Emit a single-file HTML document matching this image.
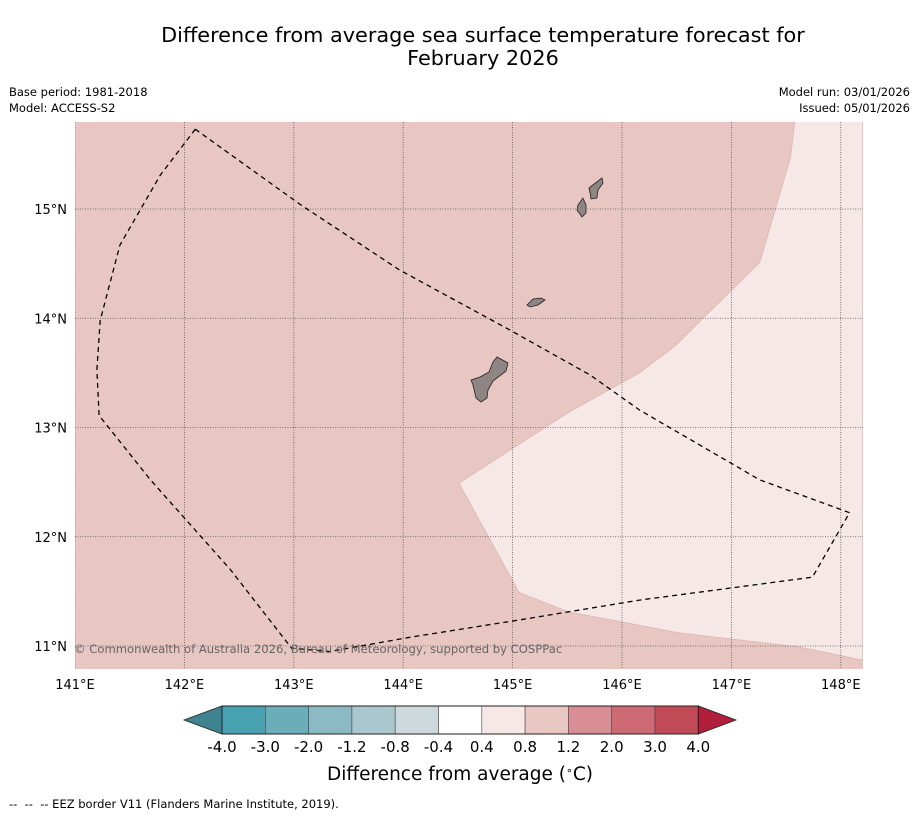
<!DOCTYPE html>
<html><head><meta charset="utf-8"><style>
body{margin:0;background:#fff;width:919px;height:816px;overflow:hidden;font-family:"DejaVu Sans","Liberation Sans",sans-serif}
svg text{font-family:"DejaVu Sans","Liberation Sans",sans-serif}
</style></head><body>
<svg id="c" width="919" height="816" xmlns="http://www.w3.org/2000/svg">
<text x="483" y="42" text-anchor="middle" font-size="20.8">Difference from average sea surface temperature forecast for</text>
<text x="483" y="65" text-anchor="middle" font-size="20.8">February 2026</text>
<text x="9" y="96" font-size="11.5">Base period: 1981-2018</text>
<text x="9" y="112" font-size="11.5">Model: ACCESS-S2</text>
<text x="910" y="96" font-size="11.5" text-anchor="end">Model run: 03/01/2026</text>
<text x="910" y="112" font-size="11.5" text-anchor="end">Issued: 05/01/2026</text>
<g id="map"></g>
<g id="cbar"></g>
<text x="460" y="780" text-anchor="middle" font-size="18.5">Difference from average (<tspan baseline-shift="super" font-size="11">∘</tspan>C)</text>
<text x="9" y="808" font-size="11.5" xml:space="preserve" style="white-space:pre">--  --  -- EEZ border V11 (Flanders Marine Institute, 2019).</text>
</svg>
<script>
const lonTicks=[141,142,143,144,145,146,147,148];
const latTicks=[11,12,13,14,15];
const warmZone=[[147.58,15.80],[147.54,15.47],[147.26,14.51],[146.76,14.02],[146.49,13.75],[146.16,13.50],[145.50,13.13],[144.51,12.49],[145.06,11.49],[145.52,11.31],[146.53,11.12],[147.63,10.99],[148.20,10.87],[148.20,15.80]];
const eez=[[142.10,15.73],[141.78,15.31],[141.41,14.67],[141.23,13.98],[141.20,13.53],[141.22,13.11],[141.69,12.52],[142.42,11.70],[142.98,10.98],[143.33,10.95],[144.06,11.08],[145.07,11.24],[146.16,11.42],[147.74,11.63],[148.08,12.22],[147.26,12.52],[146.16,13.16],[145.71,13.48],[144.98,13.89],[143.97,14.44],[143.06,15.04],[142.10,15.73]];
const guam=[[144.857,13.645],[144.958,13.590],[144.940,13.517],[144.821,13.426],[144.775,13.343],[144.766,13.270],[144.711,13.233],[144.665,13.270],[144.638,13.389],[144.620,13.435],[144.702,13.462],[144.784,13.508],[144.821,13.600]];
const rota=[[145.132,14.121],[145.186,14.176],[145.260,14.185],[145.296,14.167],[145.232,14.121],[145.159,14.103]];
const tinian=[[145.598,15.037],[145.643,15.101],[145.671,15.037],[145.671,14.963],[145.634,14.927],[145.589,14.991]];
const saipan=[[145.698,15.192],[145.817,15.284],[145.826,15.238],[145.781,15.174],[145.771,15.101],[145.717,15.092],[145.708,15.146]];
const cbLabels=["-4.0","-3.0","-2.0","-1.2","-0.8","-0.4","0.4","0.8","1.2","2.0","3.0","4.0"];
const cbColors=["#48a2b2","#6cadba","#8bb9c4","#a9c7cc","#cdd9dd","#ffffff","#f5e8e7","#e8c7c2","#d98e95","#cd6a74","#c24b58"];
const ext=["#3f8390","#b21f3b"];
const NS="http://www.w3.org/2000/svg";
const X0=75,X1=863,Y0=122,Y1=669;
const xs=lon=>75+(lon-141)*109.4;
const ys=lat=>209-(lat-15)*109.25;
function mk(t,a,p){const e=document.createElementNS(NS,t);for(const k in a)e.setAttribute(k,a[k]);p.appendChild(e);return e;}
const map=document.getElementById('map');
const pts=a=>a.map(p=>xs(p[0]).toFixed(1)+','+ys(p[1]).toFixed(1)).join(' ');
let bg=mk('rect',{x:X0,y:Y0,width:X1-X0,height:Y1-Y0,fill:'#e8c7c2'},map);

let cp=mk('clipPath',{id:'clip'},map);mk('rect',{x:X0,y:Y0,width:X1-X0,height:Y1-Y0},cp);
const g=mk('g',{'clip-path':'url(#clip)'},map);
let wz=mk('polygon',{points:pts(warmZone),fill:'#f5e8e7',stroke:'#d9b0aa','stroke-width':0.6},g);

lonTicks.forEach(l=>{const x=xs(l);
 let ln=mk('line',{x1:x,x2:x,y1:Y0,y2:Y1,stroke:'#555','stroke-width':0.8,'stroke-dasharray':'1,1.5'},g);
 
 let t=mk('text',{x:x,y:689,'text-anchor':'middle','font-size':13},map);t.textContent=l+'°E';
 });
latTicks.forEach(l=>{const y=ys(l);
 let ln=mk('line',{x1:X0,x2:X1,y1:y,y2:y,stroke:'#555','stroke-width':0.8,'stroke-dasharray':'1,1.5'},g);
 
 let t=mk('text',{x:67,y:y+5,'text-anchor':'end','font-size':13},map);t.textContent=l+'°N';
 });
[guam,rota,tinian,saipan].forEach((isl,i)=>{let p=mk('polygon',{points:pts(isl),fill:'#8f8585',stroke:'#222','stroke-width':0.8},g);
 });
let e=mk('polyline',{points:pts(eez),fill:'none',stroke:'#000','stroke-width':1.3,'stroke-dasharray':'5,4'},g);

let cr=mk('text',{x:74,y:653,'font-size':11.6,fill:'#666'},map);cr.textContent='© Commonwealth of Australia 2026, Bureau of Meteorology, supported by COSPPac';

const cb=document.getElementById('cbar');
const bx0=222,bw=43.3,by=706,bh=28;
let la=mk('polygon',{points:`${bx0},${by} ${bx0},${by+bh} 184,${by+bh/2}`,fill:ext[0],stroke:'#222','stroke-width':0.8},cb);

cbColors.forEach((c,i)=>{let r=mk('rect',{x:bx0+i*bw,y:by,width:bw,height:bh,fill:c,stroke:'#444','stroke-width':0.6},cb);
 });
const bx1=bx0+cbColors.length*bw;
let ra=mk('polygon',{points:`${bx1},${by} ${bx1},${by+bh} 736,${by+bh/2}`,fill:ext[1],stroke:'#222','stroke-width':0.8},cb);

mk('rect',{x:bx0,y:by,width:bx1-bx0,height:bh,fill:'none',stroke:'#222','stroke-width':1},cb);
cbLabels.forEach((l,i)=>{let t=mk('text',{x:bx0+i*bw,y:752,'text-anchor':'middle','font-size':15},cb);t.textContent=l;
 });
</script>
</body></html>
